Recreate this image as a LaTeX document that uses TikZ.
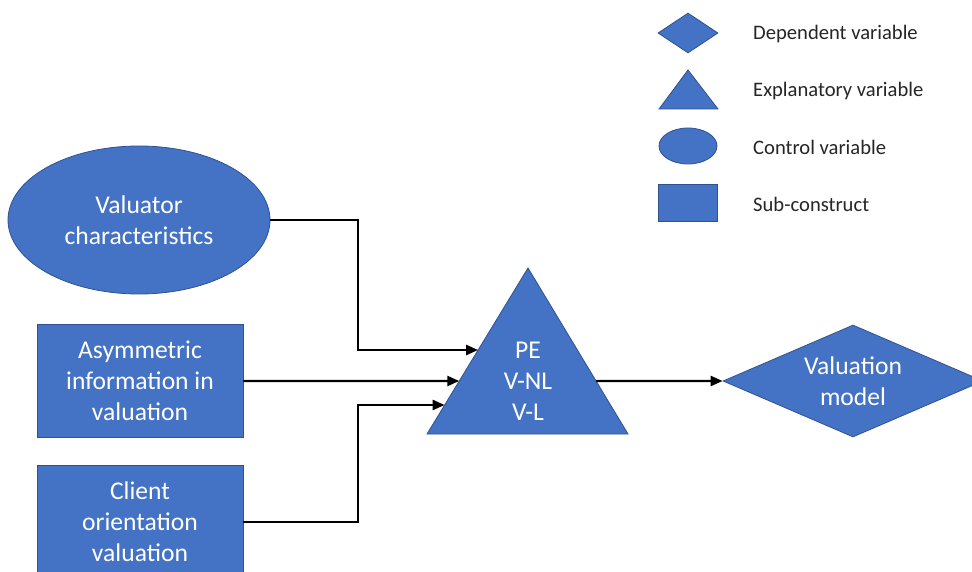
\documentclass[tikz,border=0pt]{standalone}
\usepackage{fontspec}
\setmainfont{Carlito}
\usetikzlibrary{shapes.geometric,arrows.meta,calc}
\definecolor{ofblue}{HTML}{4472C4}
\definecolor{ofedge}{HTML}{2F528F}
\definecolor{legtext}{HTML}{262626}
\tikzset{
  shp/.style={fill=ofblue,draw=ofedge,line width=0.8pt},
  big/.style={text=white,align=center,font=\fontsize{25.6}{31}\selectfont,inner sep=0pt},
  legtxt/.style={anchor=west,text=legtext,font=\fontsize{20.6}{24}\selectfont,inner sep=0pt},
  conn/.style={line width=2.4pt,-{Triangle[length=12pt,width=10pt]}}
}
\begin{document}
\begin{tikzpicture}[x=1pt,y=-1pt]
\useasboundingbox (0,0) rectangle (972,572);
\clip (0,0) rectangle (972,572);
\fill[white] (0,0) rectangle (972,572);
% main shapes
\node[shp,big,ellipse,minimum width=262pt,minimum height=148pt] (vc) at (139,220) {Valuator\\characteristics};
\node[shp,big,rectangle,minimum width=206pt,minimum height=113pt] (ai) at (140,381) {Asymmetric\\information in\\valuation};
\node[shp,big,rectangle,minimum width=206pt,minimum height=113pt] (co) at (140,522) {Client\\orientation\\valuation};
% triangle
\coordinate (apex) at (528,268);
\coordinate (bl) at (427,434);
\coordinate (br) at (628,434);
\fill[ofblue,draw=ofedge,line width=0.8pt] (apex) -- (br) -- (bl) -- cycle;
\node[big] (tri) at (528,381) {PE\\V-NL\\V-L};
\coordinate (t1) at ($(apex)!{(350-268)/166}!(bl)$);
\coordinate (t2) at ($(apex)!{(381-268)/166}!(bl)$);
\coordinate (t3) at ($(apex)!{(405-268)/166}!(bl)$);
\coordinate (tout) at ($(apex)!{(381-268)/166}!(br)$);
% diamond
\node[shp,big,diamond,aspect=2.32,minimum width=260pt,minimum height=112pt,inner sep=0pt] (vm) at (853,381) {Valuation\\model};
% connectors
\draw[conn] (vc.east) -- (vc.east -| 358,0) |- (t1);
\draw[conn] (ai.east) -- (t2);
\draw[conn] (co.east) -- (co.east -| 358,0) |- (t3);
\draw[conn] (tout) -- (vm.west);
% legend
\node[shp,diamond,aspect=1.5,minimum width=60pt,minimum height=40pt,inner sep=0pt] (ld) at (688,33) {};
\coordinate (la) at (688,70);
\fill[ofblue,draw=ofedge,line width=0.8pt] (la) -- (718,109) -- (659,109) -- cycle;
\node[shp,ellipse,minimum width=58pt,minimum height=36pt,inner sep=0pt] (le) at (688,146) {};
\node[shp,rectangle,minimum width=59pt,minimum height=37pt,inner sep=0pt] (lr) at (688,202.5) {};
\node[legtxt] (t1l) at (753,34) {Dependent variable};
\node[legtxt] (t2l) at (753,91) {Explanatory variable};
\node[legtxt] (t3l) at (753,147) {Control variable};
\node[legtxt] (t4l) at (753,204) {Sub-construct};
\end{tikzpicture}
\end{document}
